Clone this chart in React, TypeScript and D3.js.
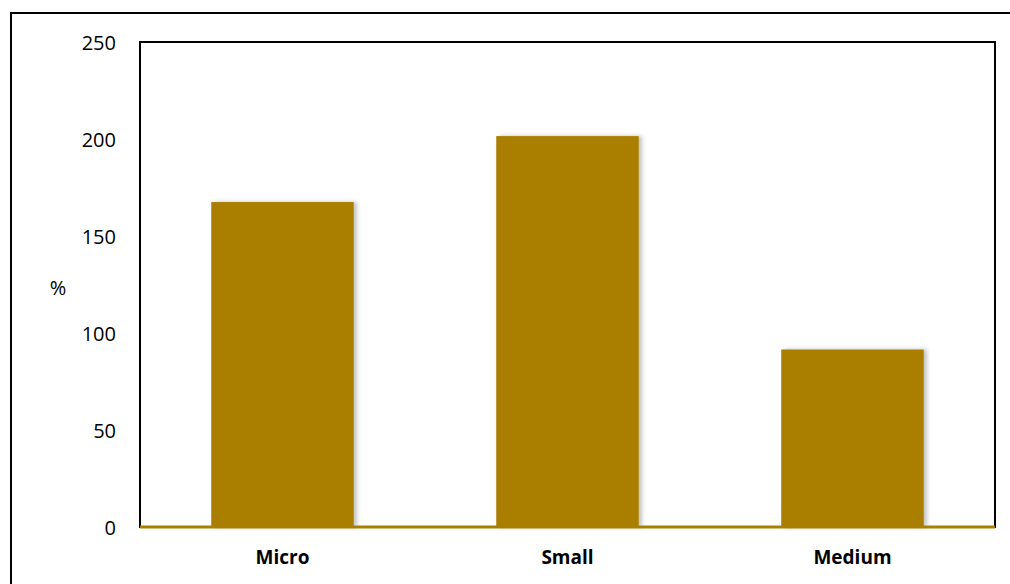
import React from "react";
import * as d3 from "d3";

const categories = ["Micro", "Small", "Medium"];
const values = [167.5, 201.5, 91.5];
const yTicks = [0, 50, 100, 150, 200, 250];

export default function App() {
  const W = 1010, H = 584;
  const left = 140, right = 995, top = 42, bottom = 527;
  const x = d3.scaleBand<string>().domain(categories).range([left, right]).paddingInner(0.5).paddingOuter(0.25);
  const y = d3.scaleLinear().domain([0, 250]).range([bottom, top]);
  const color = "#AA7F00";
  const font = "'Open Sans', 'Noto Sans', sans-serif";
  return (
    <svg width={W} height={H} style={{ position: "absolute", left: 0, top: 0, display: "block" }}>
      <defs>
        <filter id="sh" x="-10%" y="-10%" width="130%" height="120%">
          <feDropShadow dx="3" dy="0" stdDeviation="2" floodColor="#000" floodOpacity="0.25" />
        </filter>
      </defs>
      <rect x={0} y={0} width={W} height={H} fill="#fff" />
      <rect x={11} y={13} width={W + 20} height={H + 20} fill="none" stroke="#000" strokeWidth={2} />
      <rect x={left} y={top} width={right - left} height={bottom - top} fill="none" stroke="#000" strokeWidth={2} />
      {categories.map((c, i) => (
        <rect key={c} x={x(c)} y={y(values[i])} width={x.bandwidth()} height={bottom - y(values[i])} fill={color} filter="url(#sh)" />
      ))}
      <line x1={left} x2={right} y1={bottom} y2={bottom} stroke={color} strokeWidth={3} />
      {yTicks.map((t) => (
        <text key={t} x={116} y={y(t)} textAnchor="end" dominantBaseline="central" fontFamily={font} fontSize={20} fill="#000">
          {t}
        </text>
      ))}
      <text x={58} y={287} textAnchor="middle" dominantBaseline="central" fontFamily={font} fontSize={20} fill="#000">%</text>
      {categories.map((c) => (
        <text key={c} x={(x(c) as number) + x.bandwidth() / 2} y={557} textAnchor="middle" dominantBaseline="central" fontFamily={font} fontSize={19} fontWeight="bold" fill="#000">
          {c}
        </text>
      ))}
    </svg>
  );
}
